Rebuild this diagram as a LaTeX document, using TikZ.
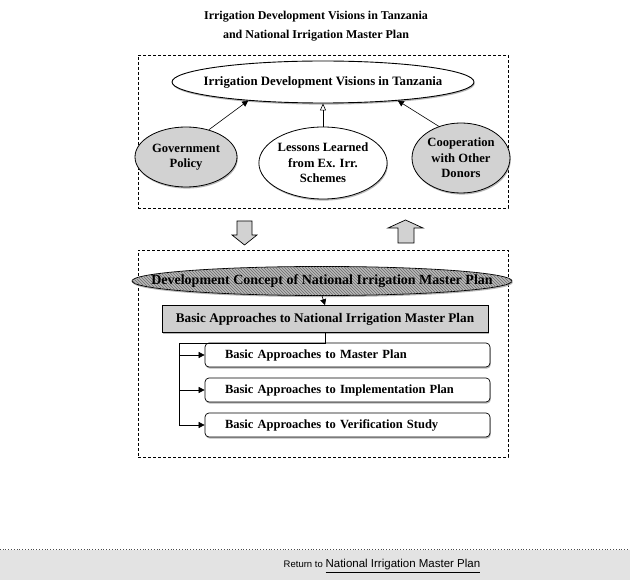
\documentclass[tikz,border=0pt]{standalone}
\usepackage{fontspec}
\setmainfont{Liberation Serif}
\newfontfamily\arialfont{Liberation Sans}
\usetikzlibrary{arrows.meta,shapes.geometric,patterns,shadows,calc}

\tikzset{
  frame/.style={draw, dash pattern=on 3pt off 2pt, line width=0.6pt, inner sep=0pt},
  softshadow/.style={drop shadow={shadow xshift=0.8pt, shadow yshift=-1.6pt, fill=gray!70, opacity=0.8}},
  vision/.style={ellipse, draw, line width=0.9pt, fill=white, inner sep=0pt, softshadow,
    font=\bfseries\fontsize{12.8}{14}\selectfont},
  source/.style={ellipse, draw, line width=0.8pt, inner sep=0pt, align=center, softshadow,
    font=\bfseries\fontsize{12.6}{15.5}\selectfont},
  concept/.style={ellipse, draw, line width=0.8pt, inner sep=0pt, fill=gray!55,
    postaction={pattern=north west lines, pattern color=gray!85!black}, softshadow,
    font=\bfseries\fontsize{14}{15}\selectfont},
  basicbox/.style={rectangle, draw, line width=0.7pt, fill=gray!38, inner sep=0pt, softshadow,
    font=\bfseries\fontsize{13.2}{14}\selectfont},
  item/.style={rectangle, rounded corners=4pt, draw, line width=0.7pt, fill=white, inner sep=0pt,
    minimum width=285pt, minimum height=24pt, softshadow, text width=245pt, align=left,
    font=\bfseries\fontsize{12.5}{14}\selectfont},
  link/.style={line width=0.6pt},
  blockarrow/.style={draw, line width=0.7pt, fill=gray!35},
}

\begin{document}
\begin{tikzpicture}[x=1pt, y=-1pt]
  \useasboundingbox (0,0) rectangle (630,580);
  \fill[white] (0,0) rectangle (630,580);

  % heading
  \node (title) at (316,26.5) [align=center, font=\bfseries\fontsize{12}{19}\selectfont]
    {Irrigation Development Visions in Tanzania\\and National Irrigation Master Plan};

  % upper dashed panel with the vision and its three sources
  \node (upper) at (323,131.5) [frame, minimum width=370pt, minimum height=153pt] {};
  \node (vision) at (323,82) [vision, minimum width=302pt, minimum height=42pt]
    {\makebox[0pt]{Irrigation Development Visions in Tanzania}};
  \node (gov) at (186,157) [source, fill=gray!35, minimum width=102pt, minimum height=60pt]
    {Government\\Policy};
  \node (lessons) at (323,163) [source, fill=white, minimum width=128pt, minimum height=72pt]
    {Lessons Learned\\from Ex. Irr.\\Schemes};
  \node (coop) at (461,158) [source, fill=gray!35, minimum width=98pt, minimum height=70pt]
    {Cooperation\\with Other\\Donors};

  \draw[link, -{Triangle[length=6pt, width=6pt]}] (gov.50) -- (vision.194);
  \draw[link, -{Triangle[open, length=7pt, width=6pt]}] (lessons.north) -- (vision.south);
  \draw[link, -{Triangle[length=6pt, width=6pt]}] (coop.125) -- (vision.346);

  % block arrows between the two panels
  \draw[blockarrow] (237,221) -- (252,221) -- (252,235) -- (257,235) -- (244.5,245)
    -- (232,235) -- (237,235) -- cycle;
  \draw[blockarrow] (398,243) -- (398,228) -- (388,228) -- (405.5,220) -- (423,228)
    -- (414,228) -- (414,243) -- cycle;

  % lower dashed panel: concept and basic approaches
  \node (lower) at (323,353.5) [frame, minimum width=370pt, minimum height=207pt] {};
  \node (concept) at (322,281) [concept, minimum width=380pt, minimum height=29pt]
    {\makebox[0pt]{Development Concept of National Irrigation Master Plan}};
  \node (basic) at (325,319) [basicbox, minimum width=326pt, minimum height=27pt]
    {Basic Approaches to National Irrigation Master Plan};
  \draw[link, -{Triangle[length=6pt, width=6pt]}] (concept.south) -- (basic.north);

  \node (mp)  at (347.5,355) [item] {Basic Approaches to Master Plan};
  \node (imp) at (347.5,390) [item] {Basic Approaches to Implementation Plan};
  \node (ver) at (347.5,425) [item] {Basic Approaches to Verification Study};

  \coordinate (bend) at (325,343);
  \coordinate (trunk) at (179,343);
  \draw[link] (basic.south) -- (bend) -- (trunk) -- (trunk |- ver.west);
  \draw[link, -{Triangle[length=6pt, width=6pt]}] (trunk |- mp.west) -- (mp.west);
  \draw[link, -{Triangle[length=6pt, width=6pt]}] (trunk |- imp.west) -- (imp.west);
  \draw[link, -{Triangle[length=6pt, width=6pt]}] (trunk |- ver.west) -- (ver.west);

  % return bar at the foot
  \node (bar) at (315,565) [rectangle, fill=gray!22, minimum width=630pt, minimum height=30pt,
    inner sep=0pt] {};
  \draw[dotted, line width=0.8pt, gray!60!black] (bar.north west) -- (bar.north east);
  \node (back) at (382,566) [font=\arialfont, inner sep=0pt]
    {{\fontsize{9.5}{11}\selectfont Return to} {\fontsize{11.5}{13}\selectfont\underline{National Irrigation Master Plan}}};
\end{tikzpicture}
\end{document}
